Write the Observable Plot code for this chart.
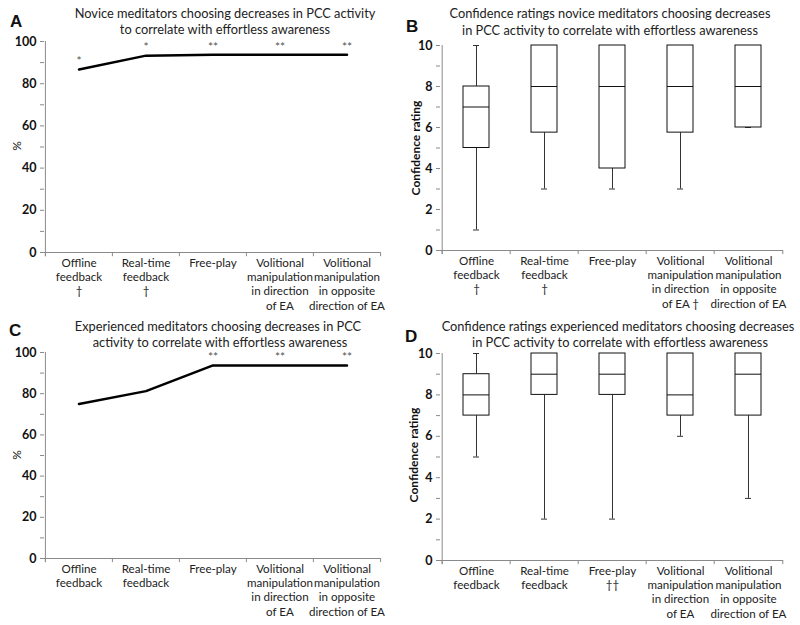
<!DOCTYPE html>
<html>
<head>
<meta charset="utf-8">
<script src="https://cdn.jsdelivr.net/npm/d3@7"></script>
<script src="https://cdn.jsdelivr.net/npm/@observablehq/plot@0.6"></script>
<style>
  html, body { margin: 0; padding: 0; background: #fff; }
  #root { position: relative; width: 800px; height: 625px; overflow: hidden; font-family: Lato, "Open Sans", sans-serif; }
  .panel { position: absolute; }
  .title { position: absolute; white-space: nowrap; transform: translate(-50%, -50%); font-size: 12.8px; color: #222; }
  .letter { position: absolute; font-weight: bold; font-size: 17px; color: #111; transform: translate(0, -50%); font-family: "Liberation Sans", Arial, sans-serif; }
  .ylab { position: absolute; white-space: nowrap; transform: translate(-50%, -50%) rotate(-90deg); color: #111; }
</style>
</head>
<body>
<div id="root"></div>
<script>
// ---- data ----
const categories = ["Offline feedback", "Real-time feedback", "Free-play",
  "Volitional manipulation in direction of EA", "Volitional manipulation in opposite direction of EA"];

const tickLabelsA = ["Offline\nfeedback\n†", "Real-time\nfeedback\n†", "Free-play",
  "Volitional\nmanipulation\nin direction\nof EA", "Volitional\nmanipulation\nin opposite\ndirection of EA"];
const tickLabelsB = ["Offline\nfeedback\n†", "Real-time\nfeedback\n†", "Free-play",
  "Volitional\nmanipulation\nin direction\nof EA †", "Volitional\nmanipulation\nin opposite\ndirection of EA"];
const tickLabelsC = ["Offline\nfeedback", "Real-time\nfeedback", "Free-play",
  "Volitional\nmanipulation\nin direction\nof EA", "Volitional\nmanipulation\nin opposite\ndirection of EA"];
const tickLabelsD = ["Offline\nfeedback", "Real-time\nfeedback", "Free-play\n††",
  "Volitional\nmanipulation\nin direction\nof EA", "Volitional\nmanipulation\nin opposite\ndirection of EA"];

// Panel A: novice % choosing decreases
const percentA = [86.7, 93.3, 93.75, 93.75, 93.75];
const signifA = ["*", "*", "**", "**", "**"];
// Panel C: experienced % choosing decreases
const percentC = [75, 81.25, 93.75, 93.75, 93.75];
const signifC = ["", "", "**", "**", "**"];

// Panel B: novice confidence box plots
const lowB = [1, 3, 3, 3, 6];
const q1B = [5, 5.75, 4, 5.75, 6];
const medB = [7, 8, 8, 8, 8];
const q3B = [8, 10, 10, 10, 10];
const highB = [10, 10, 10, 10, 10];
// Panel D: experienced confidence box plots
const lowD = [5, 2, 2, 6, 3];
const q1D = [7, 8, 8, 7, 7];
const medD = [8, 9, 9, 8, 9];
const q3D = [9, 10, 10, 10, 10];
const highD = [10, 10, 10, 10, 10];

const percentTicks = d3.range(0, 101, 10);
const ratingTicks = d3.range(0, 11, 1);

// ---- helpers ----
const root = document.getElementById("root");
function place(el, left, top) {
  el.classList.add("panel");
  el.style.left = left + "px";
  el.style.top = top + "px";
  root.appendChild(el);
}
function addDiv(cls, text, x, y, extra) {
  const d = document.createElement("div");
  d.className = cls;
  d.textContent = text;
  d.style.left = x + "px";
  d.style.top = y + "px";
  if (extra) Object.assign(d.style, extra);
  root.appendChild(d);
}

const FONT = "Lato, 'Open Sans', sans-serif";
const AXIS = "#8a8a8a";

function commonMarks(o) {
  const bw = (o.width - o.ml - o.mr) / categories.length;
  return [
    Plot.ruleY([0], {stroke: AXIS}),
    Plot.ruleX([categories[0]], {y1: o.tickDown, y2: o.ymax, dx: -bw / 2, stroke: AXIS}),
    Plot.ruleX(categories, {x: d => d, y1: o.tickDown, y2: 0, dx: -bw / 2, stroke: AXIS}),
    Plot.ruleX([categories[categories.length - 1]], {y1: o.tickDown, y2: 0, dx: bw / 2, stroke: AXIS}),
    Plot.axisY({ticks: o.ticks, tickFormat: d => (d % o.labelEvery ? "" : d), tickSize: 4, tickPadding: 4,
      stroke: AXIS, fill: "#111", fontWeight: "bold", fontSize: 12.5, label: null}),
    Plot.axisX({tickSize: 0, tickPadding: 4, tickFormat: d => o.labels[categories.indexOf(d)],
      fill: "#222", fontSize: 11.6, lineHeight: 1.24, label: null})
  ];
}

function linePanel(o) {
  const data = categories.map((c, i) => ({cat: c, pct: o.values[i], sig: o.sig[i]}));
  return Plot.plot({
    width: o.width, height: o.height,
    marginLeft: o.ml, marginRight: o.mr, marginTop: o.mt, marginBottom: o.mb,
    style: {fontFamily: FONT, background: "transparent"},
    x: {type: "band", domain: categories, padding: 0, axis: null},
    y: {domain: [0, 100], axis: null},
    marks: [
      ...commonMarks(o),
      Plot.line(data, {x: "cat", y: "pct", stroke: "#000", strokeWidth: 2.5}),
      Plot.text(data, {x: "cat", y: "pct", text: "sig", dy: -8, fontSize: 12, fill: "#555"})
    ]
  });
}

function boxPanel(o) {
  const data = categories.map((c, i) => ({cat: c, low: o.low[i], q1: o.q1[i], med: o.med[i], q3: o.q3[i], high: o.high[i]}));
  return Plot.plot({
    width: o.width, height: o.height,
    marginLeft: o.ml, marginRight: o.mr, marginTop: o.mt, marginBottom: o.mb,
    style: {fontFamily: FONT, background: "transparent"},
    x: {type: "band", domain: categories, padding: 0, axis: null},
    y: {domain: [0, 10], axis: null},
    marks: [
      ...commonMarks(o),
      Plot.ruleX(data, {x: "cat", y1: "low", y2: "q1", stroke: "#333"}),
      Plot.ruleX(data, {x: "cat", y1: "q3", y2: "high", stroke: "#333"}),
      Plot.tickY(data, {x: "cat", y: "low", stroke: "#333", insetLeft: 31, insetRight: 31}),
      Plot.tickY(data, {x: "cat", y: "high", stroke: "#333", insetLeft: 31, insetRight: 31}),
      Plot.barY(data, {x: "cat", y1: "q1", y2: "q3", fill: "white", stroke: "#111", insetLeft: 21, insetRight: 21}),
      Plot.tickY(data, {x: "cat", y: "med", stroke: "#111", insetLeft: 21, insetRight: 21})
    ]
  });
}

// ---- panels ----
place(linePanel({width: 400, height: 320, ml: 44, mr: 20, mt: 41, mb: 68,
  values: percentA, sig: signifA, labels: tickLabelsA, ticks: percentTicks, labelEvery: 20, ymax: 100, tickDown: -2}), 0, 0);
place(boxPanel({width: 400, height: 320, ml: 40, mr: 17, mt: 45, mb: 70,
  low: lowB, q1: q1B, med: medB, q3: q3B, high: highB, labels: tickLabelsB, ticks: ratingTicks, labelEvery: 2, ymax: 10, tickDown: -0.2}), 400, 0);
place(linePanel({width: 400, height: 315, ml: 44, mr: 20, mt: 42, mb: 67,
  values: percentC, sig: signifC, labels: tickLabelsC, ticks: percentTicks, labelEvery: 20, ymax: 100, tickDown: -2}), 0, 310);
place(boxPanel({width: 400, height: 315, ml: 40, mr: 17, mt: 43, mb: 65,
  low: lowD, q1: q1D, med: medD, q3: q3D, high: highD, labels: tickLabelsD, ticks: ratingTicks, labelEvery: 2, ymax: 10, tickDown: -0.2}), 400, 310);

// ---- titles and labels ----
addDiv("title", "Novice meditators choosing decreases in PCC activity", 225, 13);
addDiv("title", "to correlate with effortless awareness", 225, 29);
addDiv("title", "Confidence ratings novice meditators choosing decreases", 610, 13);
addDiv("title", "in PCC activity to correlate with effortless awareness", 610, 30);
addDiv("title", "Experienced meditators choosing decreases in PCC", 218, 326);
addDiv("title", "activity to correlate with effortless awareness", 220, 342);
addDiv("title", "Confidence ratings experienced meditators choosing decreases", 618, 326);
addDiv("title", "in PCC activity to correlate with effortless awareness", 620, 342);

addDiv("letter", "A", 10, 22);
addDiv("letter", "B", 406, 27);
addDiv("letter", "C", 9, 331);
addDiv("letter", "D", 405, 337);

addDiv("ylab", "%", 16, 146, {fontSize: "12px"});
addDiv("ylab", "%", 16, 455, {fontSize: "12px"});
addDiv("ylab", "Confidence rating", 415, 148, {fontSize: "12px", fontWeight: "bold"});
addDiv("ylab", "Confidence rating", 413, 455, {fontSize: "12px", fontWeight: "bold"});
</script>
</body>
</html>
